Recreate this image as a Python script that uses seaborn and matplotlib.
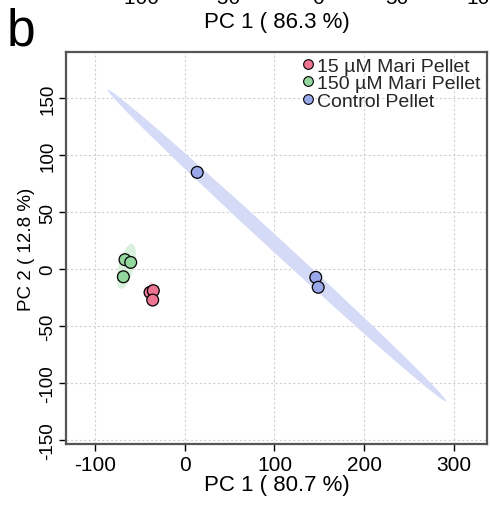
import numpy as np
import pandas as pd
import matplotlib
matplotlib.use("Agg")
import matplotlib.pyplot as plt
from matplotlib.patches import Ellipse
from matplotlib.lines import Line2D
import seaborn as sns

groups = ["15 µM Mari Pellet", "150 µM Mari Pellet", "Control Pellet"]
pc1_15 = [-38.7, -35.0, -35.7]
pc2_15 = [-20.5, -19.0, -27.2]
pc1_150 = [-66.6, -60.2, -68.4]
pc2_150 = [8.2, 5.8, -6.8]
pc1_ctrl = [13.9, 146.0, 148.7]
pc2_ctrl = [84.8, -7.3, -16.0]
xticks = [-100, 0, 100, 200, 300]
yticks = [-150, -100, -50, 0, 50, 100, 150]
prev_ticks = ["-100", "-50", "0", "50", "100"]

fill_colors = ["#EE7592", "#93D69E", "#98A8E8"]
ell_colors = ["#F7D3DC", "#D9F0DC", "#D5DBF7"]

df = pd.DataFrame({
    "PC1": pc1_15 + pc1_150 + pc1_ctrl,
    "PC2": pc2_15 + pc2_150 + pc2_ctrl,
    "group": [groups[0]] * 3 + [groups[1]] * 3 + [groups[2]] * 3,
})

sns.set_theme(style="white")
plt.rcParams["font.family"] = ["Liberation Sans", "DejaVu Sans"]

fig = plt.figure(figsize=(4.9, 5.06), dpi=100)
ax = fig.add_axes([66 / 490, 1 - 445 / 506, (487 - 66) / 490, (445 - 53) / 506])

# 95% confidence ellipses
chi = np.sqrt(5.991)
for g, ec in zip(groups, ell_colors):
    sub = df[df.group == g]
    xy = sub[["PC1", "PC2"]].to_numpy(dtype=float)
    mu = xy.mean(axis=0)
    cov = np.cov(xy.T)
    vals, vecs = np.linalg.eigh(cov)
    order = vals.argsort()[::-1]
    vals, vecs = vals[order], vecs[:, order]
    ang = np.degrees(np.arctan2(vecs[1, 0], vecs[0, 0]))
    w, h = 2 * chi * np.sqrt(np.maximum(vals, 0))
    ax.add_patch(Ellipse(mu, w, h, angle=ang, facecolor=ec, edgecolor="none", zorder=1))

sns.scatterplot(data=df, x="PC1", y="PC2", hue="group", hue_order=groups,
                palette=fill_colors, s=72, edgecolor="black", linewidth=0.9,
                ax=ax, zorder=3, legend=False)

ax.set_xlim(-132.3, 336.8)
ax.set_ylim(-153.5, 190.4)
ax.set_xticks(xticks)
ax.set_yticks(yticks)
ax.set_xticklabels([str(t) for t in xticks], fontsize=15, color="black")
ax.set_yticklabels([str(t) for t in yticks], fontsize=13.5, color="black",
                   rotation=90, va="center")
ax.tick_params(axis="both", direction="out", length=5, width=1, color="black",
               bottom=True, left=True)
ax.tick_params(axis="x", pad=3)
ax.tick_params(axis="y", pad=2)
ax.grid(True, linestyle=(0, (2, 2)), color="#D0D0D0", linewidth=0.8)
ax.set_axisbelow(True)
for sp in ax.spines.values():
    sp.set_color("#555555")
    sp.set_linewidth(1.6)
ax.set_xlabel("PC 1 ( 80.7 %)", fontsize=16, color="black", labelpad=0)
ax.set_ylabel("PC 2 ( 12.8 %)", fontsize=13.5, color="black", labelpad=3)

handles = [Line2D([0], [0], marker="o", linestyle="none", markersize=7,
                  markerfacecolor=c, markeredgecolor="black", markeredgewidth=0.8)
           for c in fill_colors]
ax.legend(handles, groups, loc="upper left",
          bbox_to_anchor=((301 - 66) / 421, 1 - 5 / 392),
          frameon=False, fontsize=14, handletextpad=0.1, labelspacing=0.0,
          borderaxespad=0.0, borderpad=0.0, handlelength=0.7)

# remnants of the panel above
fig.text(7 / 490, 1 - 46 / 506, "b", fontsize=37, color="black", va="baseline")
fig.text(277 / 490, 1 - 28 / 506, "PC 1 ( 86.3 %)", fontsize=16,
         color="black", ha="center", va="baseline")
for lab, xp in zip(prev_ticks, [138, 225, 318, 397, 484]):
    fig.text(xp / 490, 1 - 4 / 506, lab, fontsize=15, color="black",
             ha="center", va="baseline")

fig.savefig("out.png", dpi=100)
